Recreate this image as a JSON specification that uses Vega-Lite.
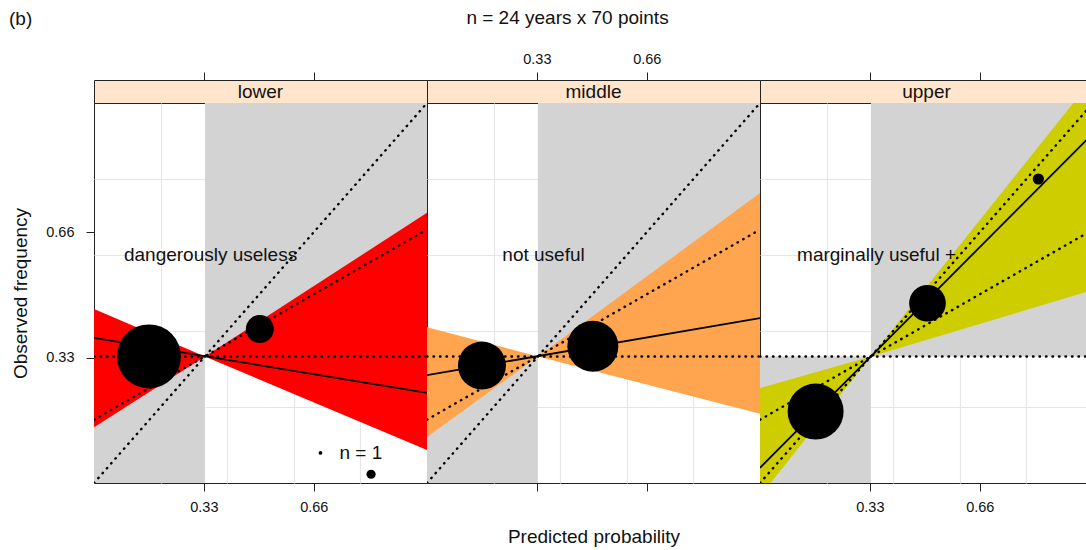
{
  "$schema": "https://vega.github.io/schema/vega-lite/v6.json",
  "padding": {"left": 8, "top": 8, "right": 0, "bottom": 0},
  "config": {
    "font": "Liberation Sans",
    "view": {"stroke": "#222", "strokeWidth": 1},
    "axis": {
      "domain": false,
      "tickColor": "#222",
      "tickSize": 8,
      "labelColor": "#111",
      "labelFontSize": 14.5,
      "labelFont": "Liberation Sans",
      "titleFont": "Liberation Sans",
      "titleFontSize": 19,
      "titleFontWeight": "normal",
      "titleColor": "#111",
      "gridColor": "#e6e6e6",
      "gridWidth": 1.2
    },
    "title": {"font": "Liberation Sans", "fontSize": 19, "fontWeight": "normal", "color": "#111"}
  },
  "datasets": {
    "strips": [
      {"panel": "lower"},
      {"panel": "middle"},
      {"panel": "upper"}
    ],
    "quadrants": [
      {"x": 0.333, "x2": 1, "y": 0.333, "y2": 1},
      {"x": 0, "x2": 0.333, "y": 0, "y2": 0.333}
    ],
    "bands": [
      {"panel": "lower", "x": 0, "y": 0.147, "y2": 0.458},
      {"panel": "lower", "x": 0.333, "y": 0.333, "y2": 0.333},
      {"panel": "lower", "x": 1, "y": 0.087, "y2": 0.711},
      {"panel": "middle", "x": 0, "y": 0.121, "y2": 0.41},
      {"panel": "middle", "x": 0.333, "y": 0.333, "y2": 0.333},
      {"panel": "middle", "x": 1, "y": 0.182, "y2": 0.763},
      {"panel": "upper", "x": 0, "y": -0.035, "y2": 0.25},
      {"panel": "upper", "x": 0.333, "y": 0.333, "y2": 0.333},
      {"panel": "upper", "x": 1, "y": 0.508, "y2": 1.065}
    ],
    "refs": [
      {"ref": "perfect", "x": 0, "y": 0},
      {"ref": "perfect", "x": 1, "y": 1},
      {"ref": "noskill", "x": 0, "y": 0.1667},
      {"ref": "noskill", "x": 1, "y": 0.6667},
      {"ref": "climatology", "x": 0, "y": 0.333},
      {"ref": "climatology", "x": 1, "y": 0.333}
    ],
    "fits": [
      {"panel": "lower", "x": 0, "y": 0.382},
      {"panel": "lower", "x": 1, "y": 0.237},
      {"panel": "middle", "x": 0, "y": 0.284},
      {"panel": "middle", "x": 1, "y": 0.434},
      {"panel": "upper", "x": 0, "y": 0.04},
      {"panel": "upper", "x": 1, "y": 0.92}
    ],
    "points": [
      {"panel": "lower", "x": 0.165, "y": 0.333, "n": 293},
      {"panel": "lower", "x": 0.498, "y": 0.405, "n": 56},
      {"panel": "lower", "x": 0.832, "y": 0.023, "n": 6},
      {"panel": "middle", "x": 0.165, "y": 0.309, "n": 165},
      {"panel": "middle", "x": 0.498, "y": 0.36, "n": 186},
      {"panel": "upper", "x": 0.167, "y": 0.188, "n": 224},
      {"panel": "upper", "x": 0.503, "y": 0.473, "n": 96},
      {"panel": "upper", "x": 0.836, "y": 0.8, "n": 9}
    ],
    "labels": [
      {"panel": "lower", "label": "dangerously useless"},
      {"panel": "middle", "label": "not useful"},
      {"panel": "upper", "label": "marginally useful +"}
    ]
  },
  "columns": 3,
  "spacing": 0,
  "bounds": "flush",
  "concat": [
    {
      "width": 333,
      "height": 23,
      "view": {"fill": "#ffe5cc", "stroke": "#222"},
      "title": {"text": "(b)", "anchor": "start", "frame": "group", "dx": -85, "offset": 43},
      "data": {"name": "strips"},
      "transform": [{"filter": "datum.panel == 'lower'"}],
      "mark": {"type": "text", "fontSize": 19, "color": "#111"},
      "encoding": {
        "x": {"datum": 0.5, "type": "quantitative", "scale": {"domain": [0, 1], "nice": false, "zero": false},
              "axis": {"orient": "top", "values": [0.33, 0.66], "labels": false, "grid": false, "title": null}},
        "text": {"field": "panel"}
      }
    },
    {
      "width": 333,
      "height": 23,
      "view": {"fill": "#ffe5cc", "stroke": "#222"},
      "title": {"text": "n = 24 years x 70 points", "anchor": "middle", "frame": "group", "dx": -26, "offset": 23},
      "data": {"name": "strips"},
      "transform": [{"filter": "datum.panel == 'middle'"}],
      "mark": {"type": "text", "fontSize": 19, "color": "#111"},
      "encoding": {
        "x": {"datum": 0.5, "type": "quantitative", "scale": {"domain": [0, 1], "nice": false, "zero": false},
              "axis": {"orient": "top", "values": [0.33, 0.66], "format": ".2f", "labelPadding": 6, "grid": false, "title": null}},
        "text": {"field": "panel"}
      }
    },
    {
      "width": 333,
      "height": 23,
      "view": {"fill": "#ffe5cc", "stroke": "#222"},
      "data": {"name": "strips"},
      "transform": [{"filter": "datum.panel == 'upper'"}],
      "mark": {"type": "text", "fontSize": 19, "color": "#111"},
      "encoding": {
        "x": {"datum": 0.5, "type": "quantitative", "scale": {"domain": [0, 1], "nice": false, "zero": false},
              "axis": {"orient": "top", "values": [0.33, 0.66], "labels": false, "grid": false, "title": null}},
        "text": {"field": "panel"}
      }
    },
    {
      "width": 333,
      "height": 380,
      "layer": [
        {
          "data": {"name": "quadrants"},
          "mark": {"type": "rect", "color": "#d3d3d3"},
          "encoding": {
            "x": {"field": "x", "type": "quantitative", "scale": {"domain": [0, 1], "nice": false, "zero": false},
                  "axis": {"orient": "bottom", "values": [0.2, 0.33, 0.4, 0.6, 0.66, 0.8], "labelOverlap": false, "labelPadding": 9,
                           "labelExpr": "datum.value == 0.33 || datum.value == 0.66 ? format(datum.value, '.2f') : ''",
                           "tickOpacity": {"condition": {"test": "datum.value == 0.33 || datum.value == 0.66", "value": 1}, "value": 0},
                           "gridOpacity": {"condition": {"test": "datum.value == 0.33 || datum.value == 0.66", "value": 0}, "value": 1},
                           "title": null}},
            "x2": {"field": "x2"},
            "y": {"field": "y", "type": "quantitative", "scale": {"domain": [0, 1], "nice": false, "zero": false},
                  "axis": {"values": [0.2, 0.33, 0.4, 0.6, 0.66, 0.8], "labelOverlap": false, "labelPadding": 12,
                           "labelExpr": "datum.value == 0.33 || datum.value == 0.66 ? format(datum.value, '.2f') : ''",
                           "tickOpacity": {"condition": {"test": "datum.value == 0.33 || datum.value == 0.66", "value": 1}, "value": 0},
                           "gridOpacity": {"condition": {"test": "datum.value == 0.33 || datum.value == 0.66", "value": 0}, "value": 1},
                           "title": "Observed frequency", "titlePadding": 15}},
            "y2": {"field": "y2"}
          }
        },
        {
          "data": {"name": "bands"},
          "transform": [{"filter": "datum.panel == 'lower'"}],
          "mark": {"type": "area", "color": "#ff0000", "opacity": 1, "clip": true},
          "encoding": {
            "x": {"field": "x", "type": "quantitative", "scale": {"domain": [0, 1], "nice": false, "zero": false}},
            "y": {"field": "y", "type": "quantitative", "scale": {"domain": [0, 1], "nice": false, "zero": false}},
            "y2": {"field": "y2"}
          }
        },
        {
          "data": {"name": "refs"},
          "mark": {"type": "line", "color": "#000", "strokeWidth": 2.4, "strokeDash": [0.5, 6], "strokeCap": "round", "clip": true},
          "encoding": {
            "x": {"field": "x", "type": "quantitative", "scale": {"domain": [0, 1], "nice": false, "zero": false}},
            "y": {"field": "y", "type": "quantitative", "scale": {"domain": [0, 1], "nice": false, "zero": false}},
            "detail": {"field": "ref", "type": "nominal"}
          }
        },
        {
          "data": {"name": "fits"},
          "transform": [{"filter": "datum.panel == 'lower'"}],
          "mark": {"type": "line", "color": "#000", "strokeWidth": 1.8, "clip": true},
          "encoding": {
            "x": {"field": "x", "type": "quantitative", "scale": {"domain": [0, 1], "nice": false, "zero": false}},
            "y": {"field": "y", "type": "quantitative", "scale": {"domain": [0, 1], "nice": false, "zero": false}}
          }
        },
        {
          "data": {"name": "points"},
          "transform": [{"filter": "datum.panel == 'lower'"}],
          "mark": {"type": "circle", "color": "#000", "opacity": 1},
          "encoding": {
            "x": {"field": "x", "type": "quantitative", "scale": {"domain": [0, 1], "nice": false, "zero": false}},
            "y": {"field": "y", "type": "quantitative", "scale": {"domain": [0, 1], "nice": false, "zero": false}},
            "size": {"field": "n", "type": "quantitative", "scale": {"domain": [0, 300], "range": [0, 4200]}, "legend": null}
          }
        },
        {
          "data": {"name": "labels"},
          "transform": [{"filter": "datum.panel == 'lower'"}],
          "mark": {"type": "text", "fontSize": 19, "color": "#111"},
          "encoding": {
            "x": {"datum": 0.35, "type": "quantitative"},
            "y": {"datum": 0.6, "type": "quantitative"},
            "text": {"field": "label"}
          }
        },
        {
          "data": {"values": [{"n": 1, "key": "n = 1"}]},
          "mark": {"type": "circle", "color": "#000", "opacity": 1},
          "encoding": {
            "x": {"datum": 0.68, "type": "quantitative"},
            "y": {"datum": 0.079, "type": "quantitative"},
            "size": {"field": "n", "type": "quantitative", "scale": {"domain": [0, 300], "range": [0, 4200]}, "legend": null}
          }
        },
        {
          "data": {"values": [{"n": 1, "key": "n = 1"}]},
          "mark": {"type": "text", "fontSize": 19, "color": "#111", "align": "left"},
          "encoding": {
            "x": {"datum": 0.737, "type": "quantitative"},
            "y": {"datum": 0.079, "type": "quantitative"},
            "text": {"field": "key"}
          }
        }
      ]
    },
    {
      "width": 333,
      "height": 380,
      "layer": [
        {
          "data": {"name": "quadrants"},
          "mark": {"type": "rect", "color": "#d3d3d3"},
          "encoding": {
            "x": {"field": "x", "type": "quantitative", "scale": {"domain": [0, 1], "nice": false, "zero": false},
                  "axis": {"orient": "bottom", "values": [0.2, 0.33, 0.4, 0.6, 0.66, 0.8], "labels": false,
                           "tickOpacity": {"condition": {"test": "datum.value == 0.33 || datum.value == 0.66", "value": 1}, "value": 0},
                           "gridOpacity": {"condition": {"test": "datum.value == 0.33 || datum.value == 0.66", "value": 0}, "value": 1},
                           "title": "Predicted probability", "titlePadding": 36}},
            "x2": {"field": "x2"},
            "y": {"field": "y", "type": "quantitative", "scale": {"domain": [0, 1], "nice": false, "zero": false},
                  "axis": {"values": [0.2, 0.4, 0.6, 0.8], "labels": false, "ticks": false, "title": null}},
            "y2": {"field": "y2"}
          }
        },
        {
          "data": {"name": "bands"},
          "transform": [{"filter": "datum.panel == 'middle'"}],
          "mark": {"type": "area", "color": "#ffa54f", "opacity": 1, "clip": true},
          "encoding": {
            "x": {"field": "x", "type": "quantitative", "scale": {"domain": [0, 1], "nice": false, "zero": false}},
            "y": {"field": "y", "type": "quantitative", "scale": {"domain": [0, 1], "nice": false, "zero": false}},
            "y2": {"field": "y2"}
          }
        },
        {
          "data": {"name": "refs"},
          "mark": {"type": "line", "color": "#000", "strokeWidth": 2.4, "strokeDash": [0.5, 6], "strokeCap": "round", "clip": true},
          "encoding": {
            "x": {"field": "x", "type": "quantitative", "scale": {"domain": [0, 1], "nice": false, "zero": false}},
            "y": {"field": "y", "type": "quantitative", "scale": {"domain": [0, 1], "nice": false, "zero": false}},
            "detail": {"field": "ref", "type": "nominal"}
          }
        },
        {
          "data": {"name": "fits"},
          "transform": [{"filter": "datum.panel == 'middle'"}],
          "mark": {"type": "line", "color": "#000", "strokeWidth": 1.8, "clip": true},
          "encoding": {
            "x": {"field": "x", "type": "quantitative", "scale": {"domain": [0, 1], "nice": false, "zero": false}},
            "y": {"field": "y", "type": "quantitative", "scale": {"domain": [0, 1], "nice": false, "zero": false}}
          }
        },
        {
          "data": {"name": "points"},
          "transform": [{"filter": "datum.panel == 'middle'"}],
          "mark": {"type": "circle", "color": "#000", "opacity": 1},
          "encoding": {
            "x": {"field": "x", "type": "quantitative", "scale": {"domain": [0, 1], "nice": false, "zero": false}},
            "y": {"field": "y", "type": "quantitative", "scale": {"domain": [0, 1], "nice": false, "zero": false}},
            "size": {"field": "n", "type": "quantitative", "scale": {"domain": [0, 300], "range": [0, 4200]}, "legend": null}
          }
        },
        {
          "data": {"name": "labels"},
          "transform": [{"filter": "datum.panel == 'middle'"}],
          "mark": {"type": "text", "fontSize": 19, "color": "#111"},
          "encoding": {
            "x": {"datum": 0.35, "type": "quantitative"},
            "y": {"datum": 0.6, "type": "quantitative"},
            "text": {"field": "label"}
          }
        }
      ]
    },
    {
      "width": 333,
      "height": 380,
      "layer": [
        {
          "data": {"name": "quadrants"},
          "mark": {"type": "rect", "color": "#d3d3d3"},
          "encoding": {
            "x": {"field": "x", "type": "quantitative", "scale": {"domain": [0, 1], "nice": false, "zero": false},
                  "axis": {"orient": "bottom", "values": [0.2, 0.33, 0.4, 0.6, 0.66, 0.8], "labelOverlap": false, "labelPadding": 9,
                           "labelExpr": "datum.value == 0.33 || datum.value == 0.66 ? format(datum.value, '.2f') : ''",
                           "tickOpacity": {"condition": {"test": "datum.value == 0.33 || datum.value == 0.66", "value": 1}, "value": 0},
                           "gridOpacity": {"condition": {"test": "datum.value == 0.33 || datum.value == 0.66", "value": 0}, "value": 1},
                           "title": null}},
            "x2": {"field": "x2"},
            "y": {"field": "y", "type": "quantitative", "scale": {"domain": [0, 1], "nice": false, "zero": false},
                  "axis": {"values": [0.2, 0.4, 0.6, 0.8], "labels": false, "ticks": false, "title": null}},
            "y2": {"field": "y2"}
          }
        },
        {
          "data": {"name": "bands"},
          "transform": [{"filter": "datum.panel == 'upper'"}],
          "mark": {"type": "area", "color": "#cdcd00", "opacity": 1, "clip": true},
          "encoding": {
            "x": {"field": "x", "type": "quantitative", "scale": {"domain": [0, 1], "nice": false, "zero": false}},
            "y": {"field": "y", "type": "quantitative", "scale": {"domain": [0, 1], "nice": false, "zero": false}},
            "y2": {"field": "y2"}
          }
        },
        {
          "data": {"name": "refs"},
          "mark": {"type": "line", "color": "#000", "strokeWidth": 2.4, "strokeDash": [0.5, 6], "strokeCap": "round", "clip": true},
          "encoding": {
            "x": {"field": "x", "type": "quantitative", "scale": {"domain": [0, 1], "nice": false, "zero": false}},
            "y": {"field": "y", "type": "quantitative", "scale": {"domain": [0, 1], "nice": false, "zero": false}},
            "detail": {"field": "ref", "type": "nominal"}
          }
        },
        {
          "data": {"name": "fits"},
          "transform": [{"filter": "datum.panel == 'upper'"}],
          "mark": {"type": "line", "color": "#000", "strokeWidth": 1.8, "clip": true},
          "encoding": {
            "x": {"field": "x", "type": "quantitative", "scale": {"domain": [0, 1], "nice": false, "zero": false}},
            "y": {"field": "y", "type": "quantitative", "scale": {"domain": [0, 1], "nice": false, "zero": false}}
          }
        },
        {
          "data": {"name": "points"},
          "transform": [{"filter": "datum.panel == 'upper'"}],
          "mark": {"type": "circle", "color": "#000", "opacity": 1},
          "encoding": {
            "x": {"field": "x", "type": "quantitative", "scale": {"domain": [0, 1], "nice": false, "zero": false}},
            "y": {"field": "y", "type": "quantitative", "scale": {"domain": [0, 1], "nice": false, "zero": false}},
            "size": {"field": "n", "type": "quantitative", "scale": {"domain": [0, 300], "range": [0, 4200]}, "legend": null}
          }
        },
        {
          "data": {"name": "labels"},
          "transform": [{"filter": "datum.panel == 'upper'"}],
          "mark": {"type": "text", "fontSize": 19, "color": "#111"},
          "encoding": {
            "x": {"datum": 0.35, "type": "quantitative"},
            "y": {"datum": 0.6, "type": "quantitative"},
            "text": {"field": "label"}
          }
        }
      ]
    }
  ]
}
